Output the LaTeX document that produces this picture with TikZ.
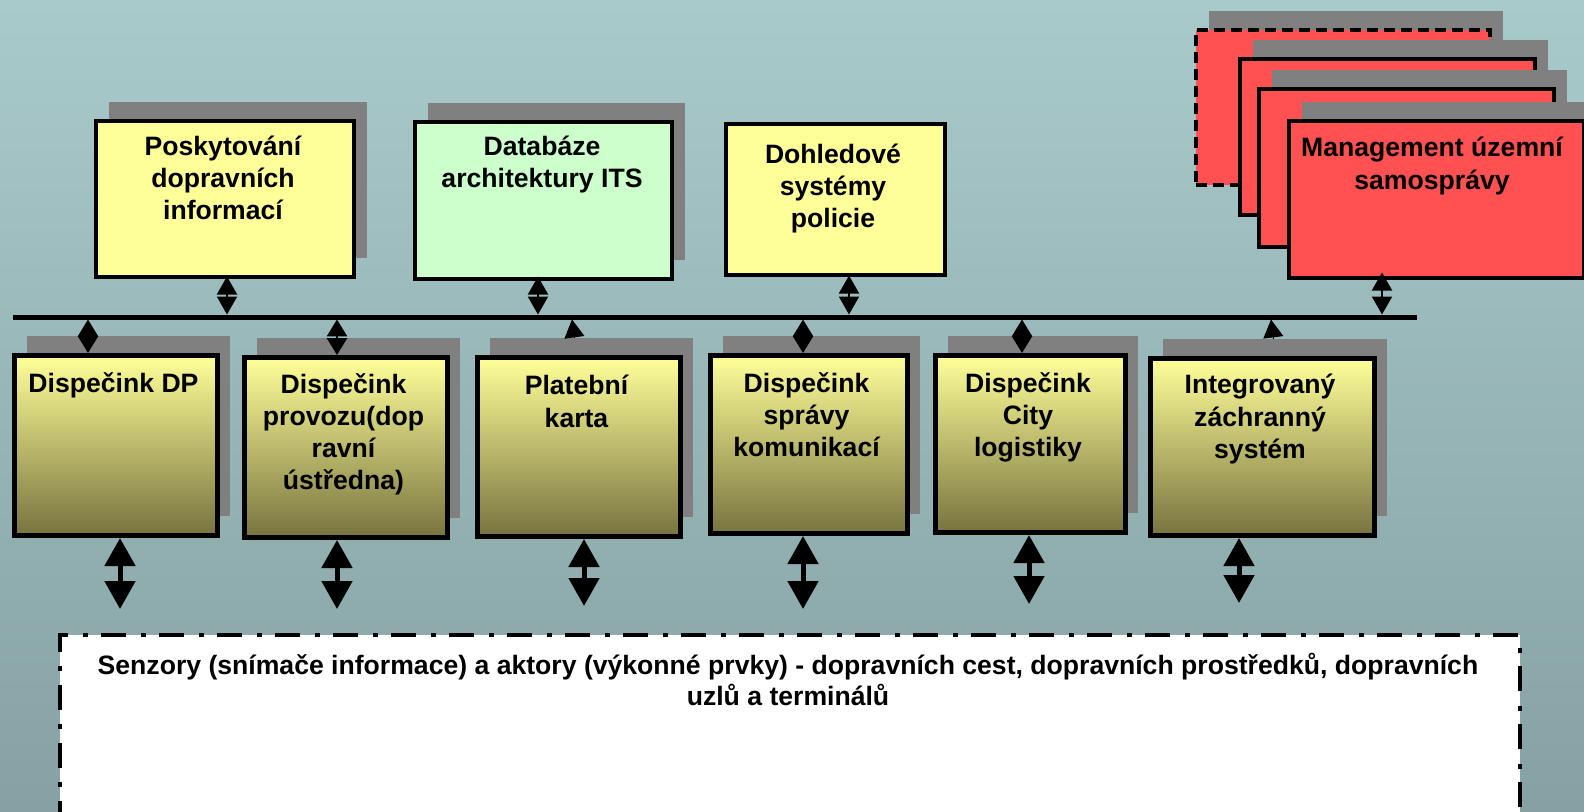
\documentclass[tikz,border=0pt]{standalone}
\usepackage{fontspec}
\setmainfont{Liberation Sans}
\usetikzlibrary{arrows.meta,calc}
\definecolor{bgtop}{HTML}{A9CACB}
\definecolor{bgbot}{HTML}{86A1A3}
\definecolor{ylw}{HTML}{FFFF99}
\definecolor{grn}{HTML}{CCFFCC}
\definecolor{rd}{HTML}{FF5151}
\definecolor{shd}{HTML}{808080}
\definecolor{olv}{HTML}{78733F}
\newcommand\shbox[6]{%
  \fill[shd] (#3+15,#4-17) rectangle (#5+15,#6-17);
  \node[#2, anchor=north west, minimum width={#5pt-#3pt}, minimum height={#6pt-#4pt}] (#1) at (#3,#4) {};
}
\begin{document}
\begin{tikzpicture}[x=1pt,y=-1pt,
  topbox/.style={draw=black, line width=3.5pt, fill=ylw, inner sep=0pt},
  greenbox/.style={topbox, fill=grn},
  redbox/.style={topbox, fill=rd},
  reddash/.style={redbox, dash pattern=on 11pt off 6pt},
  botbox/.style={draw=black, line width=5pt, top color=ylw, bottom color=olv, inner sep=0pt},
  sensbox/.style={draw=black, line width=4pt, fill=white, dash pattern=on 25pt off 13.5pt on 5pt off 14.5pt, inner sep=0pt},
  lbl/.style={font=\fontsize{26.6}{32.3}\selectfont\bfseries, align=center, inner sep=0pt, anchor=north, execute at begin node=\strut},
  slbl/.style={lbl, font=\fontsize{26.6}{31}\selectfont\bfseries},
  bus/.style={line width=5pt},
  sarrow/.style={line width=2pt, {Triangle[width=20pt,length=18pt]}-{Triangle[width=20pt,length=18pt]}},
  diam/.style={line width=2pt, {Triangle[width=20pt,length=16.8pt]}-{Triangle[width=20pt,length=16.8pt]}},
  uptri/.style={line width=1pt, -{Triangle[width=20pt,length=18pt]}},
  barrow/.style={line width=5pt, {Triangle[width=30pt,length=28pt]}-{Triangle[width=30pt,length=28pt]}},
]
\useasboundingbox (0,0) rectangle (1584,811);
\clip (0,0) rectangle (1584,811);
\fill[top color=bgtop, bottom color=bgbot] (0,0) rectangle (1584,811);

% top boxes
\shbox{posk}{topbox}{94}{119}{352}{275}
\shbox{datab}{greenbox}{413}{120}{670}{277}
\node[topbox, anchor=north west, minimum width=219pt, minimum height=151pt] (dohl) at (724,122) {};

% red stack
\shbox{r1}{reddash}{1194}{28}{1488}{183}
\shbox{r2}{redbox}{1238}{57}{1533}{213}
\shbox{r3}{redbox}{1257}{87}{1552}{245}
\shbox{mgmt}{redbox}{1287}{119}{1582}{276}

% bottom row boxes
\shbox{dp}{botbox}{12}{353}{215}{533}
\shbox{prov}{botbox}{242}{355}{445}{535}
\shbox{plat}{botbox}{475}{355}{678}{534}
\shbox{sprav}{botbox}{708}{353}{905}{531}
\shbox{city}{botbox}{933}{353}{1123}{530}
\shbox{integ}{botbox}{1148}{356}{1372}{533}

% sensor box
\node[sensbox, anchor=north west, minimum width=1460pt, minimum height=220pt] (sens) at (58,633) {};

% labels
\node[lbl] (tposk) at (223,135.5) {Poskytování\\dopravních\\informací};
\node[lbl] (tdatab) at (542,135.5) {Databáze\\architektury ITS};
\node[lbl] (tdohl) at (833,143.5) {Dohledové\\systémy\\policie};
\node[lbl] (tmgmt) at (1432,137) {Management územní\\samosprávy};
\node[lbl] (tdp) at (113.5,370) {Dispečink DP};
\node[lbl] (tprov) at (343.5,373) {Dispečink\\provozu(dop\\ravní\\ústředna)};
\node[lbl] (tplat) at (576.5,375) {Platební\\karta};
\node[lbl] (tsprav) at (806.5,372) {Dispečink\\správy\\komunikací};
\node[lbl] (tcity) at (1028,372) {Dispečink\\City\\logistiky};
\node[lbl] (tinteg) at (1260,374) {Integrovaný\\záchranný\\systém};
\node[slbl] (tsens) at (788,653) {Senzory (snímače informace) a aktory (výkonné prvky) - dopravních cest, dopravních prostředků, dopravních\\uzlů a terminálů};

% bus
\coordinate (busL) at (13,317);
\coordinate (busR) at (1417,317);
\draw[bus] (busL) -- (busR);

% bus attachment points
\coordinate (u1) at (227,314.5);
\coordinate (u2) at (538,314.5);
\coordinate (u3) at (849,314.5);
\coordinate (u4) at (1382,314.5);
\coordinate (d1) at (88,319.5);
\coordinate (d2) at (337,319.5);
\coordinate (d3) at (803,319.5);
\coordinate (d4) at (1022,319.5);
\coordinate (d5) at (572,319.5);
\coordinate (d6) at (1271,319.5);

\draw[sarrow] (u1 |- posk.south) ++(0,-2) -- (u1);
\draw[sarrow] (u2 |- datab.south) ++(0,-4) -- (u2);
\draw[sarrow] (u3 |- dohl.south) ++(0,-1) -- (u3);
\draw[sarrow] (u4 |- mgmt.south) ++(0,-7) -- (u4);

\draw[diam] (d1) -- (d1 |- dp.north);
\draw[diam] (d2) -- (d2 |- prov.north);
\draw[diam] (d3) -- (d3 |- sprav.north);
\draw[diam] (d4) -- (d4 |- city.north);
\draw[uptri] ([xshift=-4.5pt,yshift=17pt]plat.north) -- (d5);
\draw[uptri] ([xshift=11pt,yshift=17pt]integ.north) -- (d6);

% bottom arrows
\coordinate (a1) at (120,609);
\coordinate (a2) at (337,609);
\coordinate (a3) at (584,606);
\coordinate (a4) at (803,609);
\coordinate (a5) at (1029,604);
\coordinate (a6) at (1239,603);
\draw[barrow] (a1 |- dp.south) -- (a1);
\draw[barrow] (a2 |- prov.south) -- (a2);
\draw[barrow] (a3 |- plat.south) -- (a3);
\draw[barrow] (a4 |- sprav.south) -- (a4);
\draw[barrow] (a5 |- city.south) -- (a5);
\draw[barrow] (a6 |- integ.south) -- (a6);
\end{tikzpicture}
\end{document}
